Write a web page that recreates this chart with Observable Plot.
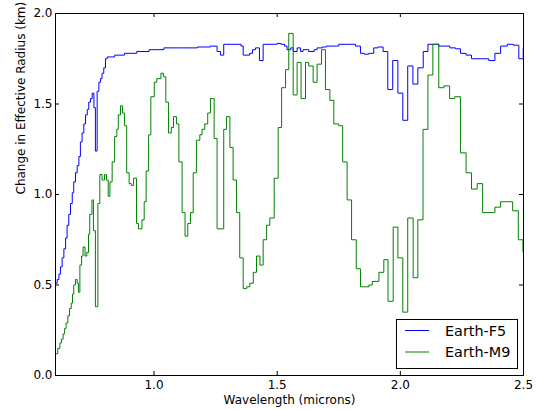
<!DOCTYPE html>
<html>
<head>
<meta charset="utf-8">
<script src="https://cdn.jsdelivr.net/npm/d3@7"></script>
<script src="https://cdn.jsdelivr.net/npm/@observablehq/plot@0.6"></script>
<style>
  html, body { margin: 0; padding: 0; background: #ffffff; }
  #chart { width: 539px; height: 409px; }
  svg { font-family: "DejaVu Sans", sans-serif; }
</style>
</head>
<body>
<div id="chart"></div>
<script>
// Earth-F5 (blue) step series: bin start wavelength (microns) and value (km)
const f5Wavelength = [0.600,0.607,0.614,0.620,0.627,0.634,0.641,0.647,0.654,0.661,0.668,0.674,0.681,0.688,0.695,0.701,0.708,0.715,0.722,0.729,0.735,0.742,0.749,0.756,0.762,0.769,0.776,0.783,0.789,0.796,0.803,0.810,0.840,0.880,0.930,0.980,1.040,1.100,1.176,1.229,1.256,1.270,1.283,1.353,1.362,1.388,1.400,1.412,1.428,1.443,1.500,1.515,1.530,1.540,1.555,1.565,1.581,1.595,1.605,1.628,1.650,1.662,1.683,1.700,1.750,1.818,1.838,1.854,1.872,1.892,1.909,1.930,1.949,1.969,1.990,2.010,2.030,2.051,2.071,2.093,2.112,2.156,2.201,2.224,2.244,2.267,2.289,2.359,2.384,2.407,2.434,2.458,2.481,2.499,2.500];
const f5Radius = [0.51,0.53,0.56,0.60,0.65,0.70,0.76,0.83,0.89,0.95,1.01,1.07,1.12,1.16,1.21,1.29,1.34,1.39,1.44,1.47,1.51,1.53,1.56,1.48,1.24,1.57,1.62,1.64,1.67,1.70,1.75,1.76,1.77,1.78,1.79,1.80,1.81,1.81,1.815,1.82,1.79,1.77,1.83,1.82,1.77,1.78,1.80,1.81,1.74,1.83,1.835,1.83,1.82,1.80,1.81,1.79,1.81,1.79,1.80,1.79,1.80,1.81,1.815,1.82,1.83,1.82,1.78,1.775,1.78,1.81,1.815,1.79,1.58,1.74,1.56,1.41,1.71,1.61,1.70,1.79,1.83,1.82,1.81,1.805,1.78,1.77,1.75,1.74,1.78,1.82,1.83,1.825,1.75,1.81,1.81];

// Earth-M9 (green) step series
const m9Wavelength = [0.600,0.609,0.618,0.624,0.631,0.637,0.643,0.650,0.657,0.664,0.669,0.674,0.681,0.688,0.693,0.699,0.706,0.712,0.720,0.727,0.734,0.739,0.748,0.754,0.762,0.772,0.780,0.789,0.799,0.807,0.814,0.821,0.830,0.840,0.849,0.855,0.864,0.872,0.880,0.889,0.899,0.908,0.917,0.929,0.937,0.951,0.960,0.968,0.978,0.987,1.001,1.011,1.028,1.038,1.048,1.059,1.070,1.079,1.091,1.101,1.114,1.126,1.137,1.148,1.159,1.172,1.186,1.195,1.206,1.218,1.229,1.244,1.256,1.283,1.294,1.308,1.321,1.335,1.348,1.362,1.376,1.389,1.403,1.416,1.430,1.443,1.457,1.470,1.488,1.504,1.518,1.534,1.547,1.565,1.581,1.597,1.615,1.628,1.646,1.662,1.680,1.696,1.714,1.730,1.750,1.766,1.784,1.802,1.821,1.838,1.872,1.886,1.913,1.933,1.950,1.971,1.990,2.010,2.030,2.052,2.071,2.092,2.112,2.132,2.156,2.177,2.200,2.221,2.244,2.267,2.289,2.312,2.334,2.384,2.407,2.432,2.456,2.479,2.498,2.500];
const m9Radius = [0.12,0.15,0.18,0.20,0.23,0.26,0.29,0.33,0.37,0.40,0.45,0.50,0.53,0.51,0.46,0.61,0.66,0.71,0.66,0.68,0.78,0.89,0.97,0.80,0.38,0.95,1.11,1.08,1.11,1.08,0.99,1.07,1.18,1.32,1.36,1.44,1.49,1.45,1.38,1.12,1.06,1.05,1.09,0.84,0.81,0.86,0.96,1.13,1.33,1.54,1.62,1.64,1.67,1.65,1.51,1.34,1.37,1.43,1.39,1.18,0.90,0.77,0.84,0.90,1.12,1.30,1.33,1.36,1.39,1.45,1.53,1.31,0.81,1.36,1.43,1.26,1.08,0.90,0.65,0.48,0.49,0.51,0.57,0.66,0.61,0.75,0.83,0.87,1.09,1.37,1.59,1.69,1.89,1.55,1.73,1.53,1.73,1.71,1.62,1.72,1.80,1.58,1.52,1.39,1.38,1.18,0.97,0.75,0.59,0.49,0.50,0.52,0.57,0.64,0.41,0.82,0.65,0.35,0.87,0.54,0.86,1.36,1.66,1.83,1.59,1.60,1.53,1.54,1.23,1.12,1.03,1.06,0.90,0.93,0.96,0.96,0.91,0.75,0.68,0.68];

const xTicks = [1.0, 1.5, 2.0, 2.5];
const yTicks = [0.0, 0.5, 1.0, 1.5, 2.0];
const seriesNames = ["Earth-F5", "Earth-M9"];
const seriesColors = ["#0000ff", "#008000"];
const xLabel = "Wavelength (microns)";
const yLabel = "Change in Effective Radius (km)";

const f5 = f5Wavelength.map((w, i) => ({w, r: f5Radius[i]}));
const m9 = m9Wavelength.map((w, i) => ({w, r: m9Radius[i]}));

const W = 539, H = 409, mL = 55, mR = 16, mT = 13, mB = 34;
const pw = W - mL - mR, ph = H - mT - mB;
const tickLen = 4;

const plot = Plot.plot({
  width: W,
  height: H,
  marginLeft: mL,
  marginRight: mR,
  marginTop: mT,
  marginBottom: mB,
  style: {fontFamily: "DejaVu Sans, sans-serif", fontSize: "12px", color: "#000", background: "#fff"},
  x: {domain: [0.6, 2.5], axis: null},
  y: {domain: [0, 2], axis: null},
  marks: [
    Plot.line(f5, {x: "w", y: "r", curve: "step-after", stroke: seriesColors[0], strokeWidth: 1}),
    Plot.line(m9, {x: "w", y: "r", curve: "step-after", stroke: seriesColors[1], strokeWidth: 1}),
    Plot.frame({stroke: "#000", strokeWidth: 1}),
    // inward ticks on all four sides
    Plot.tickX(xTicks, {x: d => d, insetTop: ph - tickLen, stroke: "#000"}),
    Plot.tickX(xTicks, {x: d => d, insetBottom: ph - tickLen, stroke: "#000"}),
    Plot.tickY(yTicks, {y: d => d, insetRight: pw - tickLen, stroke: "#000"}),
    Plot.tickY(yTicks, {y: d => d, insetLeft: pw - tickLen, stroke: "#000"}),
    Plot.axisX(xTicks, {tickSize: 0, tickPadding: 5, tickFormat: d3.format(".1f"), label: null, fontSize: 12, fill: "#000"}),
    Plot.axisY(yTicks, {tickSize: 0, tickPadding: 3, tickFormat: d3.format(".1f"), label: null, fontSize: 12, fill: "#000"}),
    Plot.text([xLabel], {text: d => d, frameAnchor: "bottom", dy: 28, fontSize: 12, fill: "#000"}),
    Plot.text([yLabel], {text: d => d, frameAnchor: "left", rotate: -90, dx: -34, fontSize: 12, fill: "#000"})
  ]
});

document.getElementById("chart").appendChild(plot);

// legend box in the lower-right corner of the plot area
const svg = d3.select(plot);
const lg = svg.append("g")
  .attr("font-family", "DejaVu Sans, sans-serif")
  .attr("font-size", "14.4px")
  .attr("text-anchor", "start");
const bx = 396, by = 319, bw = 121, bh = 49;
lg.append("rect").attr("x", bx + 0.5).attr("y", by + 0.5).attr("width", bw).attr("height", bh)
  .attr("fill", "#fff").attr("stroke", "#000").attr("stroke-width", 1);
seriesNames.forEach((name, i) => {
  const cy = by + 11.5 + i * 21.5;
  lg.append("line").attr("x1", bx + 9).attr("x2", bx + 33).attr("y1", cy).attr("y2", cy)
    .attr("stroke", seriesColors[i]).attr("stroke-width", 1);
  lg.append("text").attr("x", bx + 49).attr("y", cy).attr("dy", "0.35em")
    .attr("text-anchor", "start").attr("fill", "#000").text(name);
});
</script>
</body>
</html>
